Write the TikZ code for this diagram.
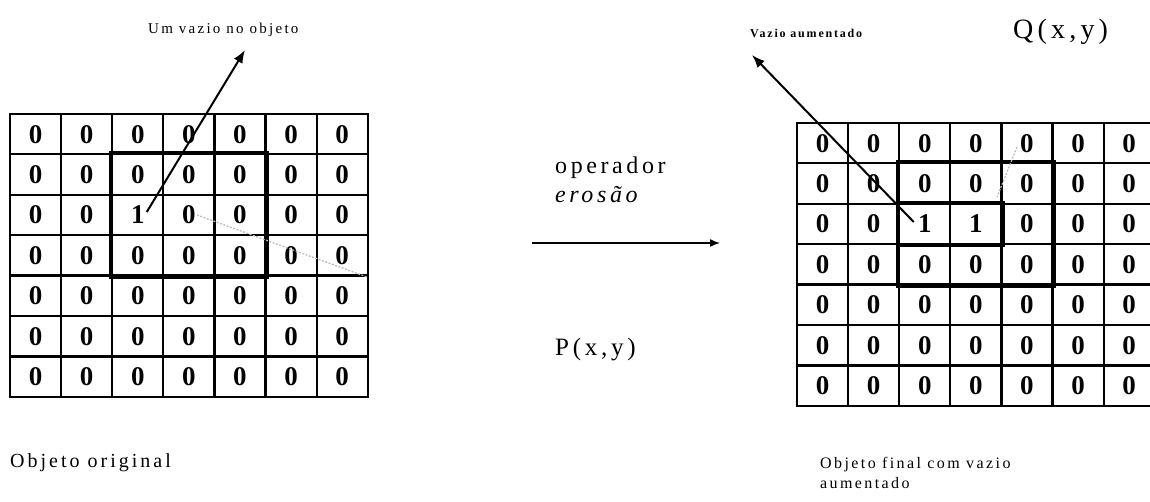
\documentclass[tikz,border=0pt]{standalone}
\usepackage{fontspec}
\setmainfont{Liberation Serif}
\newfontfamily\widefont[LetterSpace=15]{Liberation Serif}
\usetikzlibrary{arrows.meta}

\tikzset{
  cell/.style={draw, line width=2.2pt, minimum width=51.1pt, minimum height=40.4pt, inner sep=0pt, font=\fontsize{27}{27}\selectfont\bfseries},
  frame/.style={line width=4pt},
  pointer/.style={line width=2pt, -{Latex[length=13pt,width=10pt]}},
  smudge/.style={gray!55, line width=1.2pt, dash pattern=on 2pt off 1.5pt},
  label/.style={anchor=west, inner sep=0pt},
}

\begin{document}
\begin{tikzpicture}[x=1pt, y=-1pt]
    \useasboundingbox (0,0) rectangle (1150,502);

    % Original object (left grid)
    \begin{scope}[shift={(10,114)}]
        \foreach \r in {1,...,7}
            \foreach \c in {1,...,7} {
                \def\val{0}
                \ifnum\r=3 \ifnum\c=3 \def\val{1}\fi\fi
                \node[cell] (orig-\r-\c) at ({(\c-0.5)*51.1},{(\r-0.5)*40.4}) {\val};
            }
        % Structuring window
        \draw[frame] (orig-2-3.north west) rectangle (orig-4-5.south east);
    \end{scope}

    % Final object (right grid)
    \begin{scope}[shift={(797,123)}]
        \foreach \r in {1,...,7}
            \foreach \c in {1,...,7} {
                \def\val{0}
                \ifnum\r=3 \ifnum\c<5 \ifnum\c>2 \def\val{1}\fi\fi\fi
                \node[cell] (fin-\r-\c) at ({(\c-0.5)*51.1},{(\r-0.5)*40.4}) {\val};
            }
        % Structuring window and enlarged void
        \draw[frame] (fin-2-3.north west) rectangle (fin-4-5.south east);
        \draw[frame] (fin-3-3.north west) rectangle (fin-3-4.south east);
    \end{scope}

    % Labels at the top
    \node[label, font=\fontsize{15}{17}\widefont] (voidL) at (148,30) {Um vazio no objeto};
    \node[label, font=\fontsize{12}{14}\widefont\bfseries] (voidR) at (750,33) {Vazio aumentado};
    \node[label, font=\fontsize{28}{30}\widefont] (qxy) at (1013,32) {Q(x,y)};

    % Pointers to the voids
    \coordinate (tipL) at (245,50);
    \coordinate (tipR) at (752,55);
    \draw[pointer] ([xshift=9pt,yshift=3pt]orig-3-3.center) -- (tipL);
    \draw[pointer] ([xshift=-11pt,yshift=2pt]fin-3-3.center) -- (tipR);

    % Faint marks
    \draw[smudge] (197,215) -- (367,277);
    \draw[smudge] (1017,147) -- (997,197);

    % Operator
    \node[label, font=\fontsize{24}{29}\widefont, align=left] (oper) at (555,180) {operador\\\textit{erosão}};
    \coordinate (opL) at (532,243);
    \coordinate (opR) at (720,243);
    \draw[line width=1.5pt, -{Latex[length=10pt,width=8pt]}] (opL) -- (opR);
    \node[label, font=\fontsize{25}{27}\widefont] (pxy) at (555,350) {P(x,y)};

    % Captions
    \node[label, font=\fontsize{20}{22}\widefont] (capL) at (10,463) {Objeto original};
    \node[label, font=\fontsize{16}{20}\widefont, align=left] (capR) at (820,473) {Objeto final com vazio\\aumentado};
\end{tikzpicture}
\end{document}
